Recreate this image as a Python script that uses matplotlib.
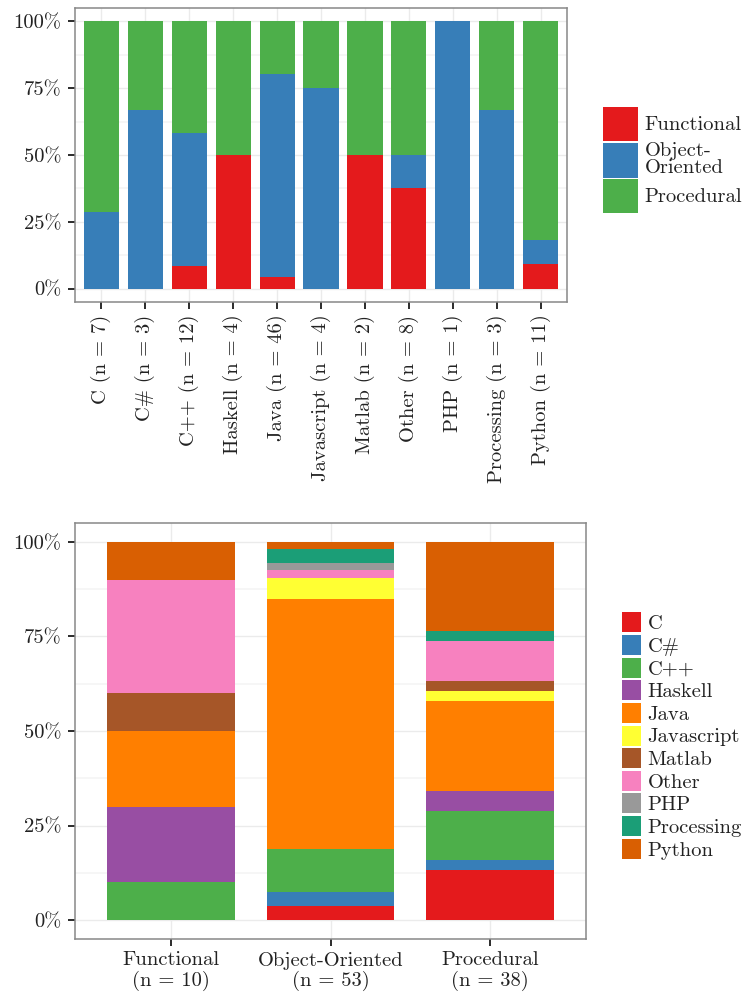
import numpy as np
import matplotlib
matplotlib.use("Agg")
import matplotlib.pyplot as plt
from matplotlib.ticker import FixedLocator

# ---------------- data ----------------
languages = ['C', 'C#', 'C++', 'Haskell', 'Java', 'Javascript', 'Matlab',
             'Other', 'PHP', 'Processing', 'Python']
paradigms = ['Functional', 'Object-Oriented', 'Procedural']
paradigm_legend_labels = ['Functional', 'Object-\nOriented', 'Procedural']

functional_counts = [0, 0, 1, 2, 2, 0, 1, 3, 0, 0, 1]
oo_counts = [2, 2, 6, 0, 35, 3, 0, 1, 1, 2, 1]
procedural_counts = [5, 1, 5, 2, 9, 1, 1, 4, 0, 1, 9]

pct_ticks = [0, 0.25, 0.5, 0.75, 1.0]
pct_labels = ['0%', '25%', '50%', '75%', '100%']

paradigm_colors = ['#E41A1C', '#377EB8', '#4DAF4A']
language_colors = ['#E41A1C', '#377EB8', '#4DAF4A', '#984EA3', '#FF7F00',
                   '#FFFF33', '#A65628', '#F781BF', '#999999', '#1B9E77',
                   '#D95F02']

# ---------------- style ----------------
plt.rcParams['font.family'] = ['cmr10', 'DejaVu Sans']
FS = 14.8
TXT = '#222222'

W, H = 746, 994
fig = plt.figure(figsize=(W / 100, H / 100), dpi=100)


def px_axes(l, t, r, b):
    return fig.add_axes([l / W, 1 - b / H, (r - l) / W, (b - t) / H])


def style_axes(ax, n):
    ax.set_xlim(-0.6, n - 1 + 0.6)
    ax.set_ylim(-0.05, 1.05)
    ax.yaxis.set_major_locator(FixedLocator(pct_ticks))
    ax.set_yticklabels(pct_labels)
    ax.yaxis.set_minor_locator(FixedLocator([0.125, 0.375, 0.625, 0.875]))
    ax.grid(which='major', color='#EBEBEB', linewidth=1.0, zorder=0)
    ax.grid(which='minor', axis='y', color='#F5F5F5', linewidth=1.2, zorder=0)
    ax.set_axisbelow(True)
    ax.tick_params(which='major', length=5, width=1.3, color='#1a1a1a',
                   labelsize=FS, labelcolor=TXT, pad=4)
    ax.tick_params(axis='y', which='major', pad=5)
    ax.tick_params(which='minor', length=0)
    for s in ax.spines.values():
        s.set_color('#888888')
        s.set_linewidth(1.1)


# ---------------- top chart ----------------
ax1 = px_axes(75, 8, 567, 302)
counts = np.array([functional_counts, oo_counts, procedural_counts], dtype=float)
totals = counts.sum(axis=0)
props = counts / totals
x1 = np.arange(len(languages))
bottom = np.zeros(len(languages))
for i, p in enumerate(paradigms):
    ax1.bar(x1, props[i], 0.8, bottom=bottom, color=paradigm_colors[i],
            linewidth=0, label=paradigm_legend_labels[i], zorder=2)
    bottom += props[i]
style_axes(ax1, len(languages))
ax1.set_xticks(x1)
ax1.set_xticklabels([f'{l} (n = {int(t)})' for l, t in zip(languages, totals)],
                    rotation=90, va='top', ha='center')

h1, l1 = ax1.get_legend_handles_labels()
leg1 = fig.legend(h1, l1, loc='center left', bbox_to_anchor=(603 / W, 1 - 160 / H),
                  frameon=False, fontsize=FS, handlelength=1.7, handleheight=2.22,
                  handletextpad=0.33, labelspacing=0.05, borderpad=0,
                  borderaxespad=0)
for t in leg1.get_texts():
    t.set_color(TXT)
    t.set_linespacing(0.9)

# ---------------- bottom chart ----------------
ax2 = px_axes(75, 523, 586, 939)
ptotals = counts.sum(axis=1)
pprops = counts.T / ptotals  # languages x paradigms
x2 = np.arange(len(paradigms))
bottom = np.zeros(len(paradigms))
for j, lang in enumerate(languages):
    ax2.bar(x2, pprops[j], 0.8, bottom=bottom, color=language_colors[j],
            linewidth=0, label=lang, zorder=2)
    bottom += pprops[j]
style_axes(ax2, len(paradigms))
ax2.set_xticks(x2)
ax2.set_xticklabels([f'{p}\n(n = {int(t)})' for p, t in zip(paradigms, ptotals)],
                    linespacing=1.1)

h2, l2 = ax2.get_legend_handles_labels()
leg2 = fig.legend(h2, l2, loc='center left', bbox_to_anchor=(622 / W, 1 - 736 / H),
                  frameon=False, fontsize=FS, handlelength=0.92, handleheight=1.12,
                  handletextpad=0.33, labelspacing=0.08, borderpad=0,
                  borderaxespad=0)
for t in leg2.get_texts():
    t.set_color(TXT)

fig.savefig('out.png', dpi=100)
